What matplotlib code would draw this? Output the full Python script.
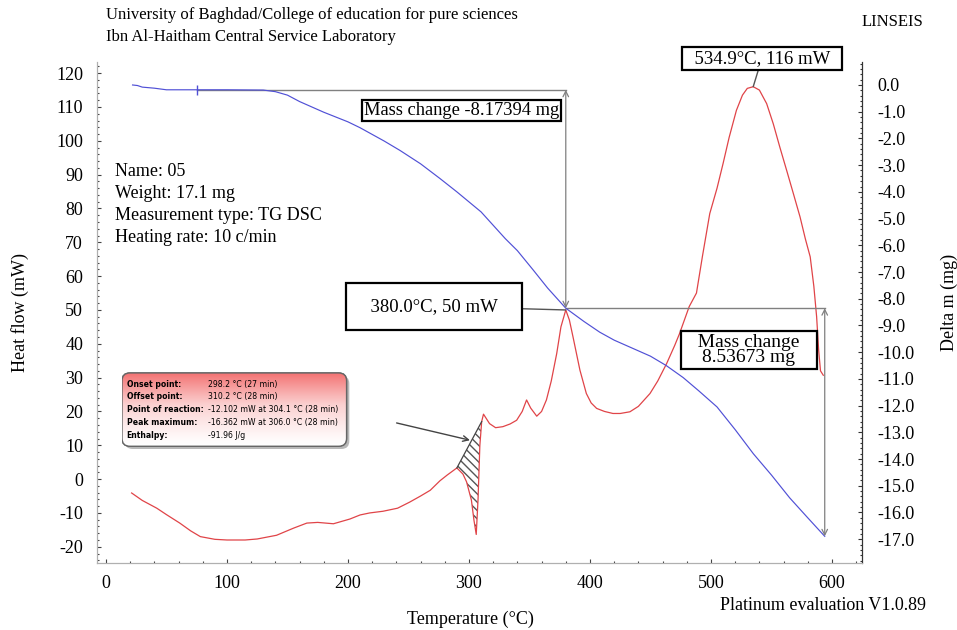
"""TG / DSC thermogram for sample 05 (Platinum evaluation export)."""

import numpy as np
import matplotlib

matplotlib.use("Agg")
import matplotlib.pyplot as plt
from matplotlib.colors import LinearSegmentedColormap
from matplotlib.patches import FancyBboxPatch
from matplotlib.ticker import FormatStrFormatter, MultipleLocator

# DSC heat flow (mW) against temperature (°C)
dsc_temp = [21.2, 30, 42, 50, 61, 70, 78, 90, 100, 115, 125, 141, 155, 166, 175,
            188, 201.6, 210, 218, 229, 241, 251, 260, 268, 276, 282, 290, 295, 298,
            302, 304.1, 306.0, 307.5, 309, 310.5, 312, 317, 322, 328, 334, 339.4,
            344, 347.6, 351, 356, 360, 364, 368, 372.5, 376, 380, 383, 386, 391.7,
            397, 401, 405.5, 412, 419, 425, 433, 440, 449.6, 456, 463.4, 470, 474,
            477, 482, 488, 493, 499, 505, 510, 515, 521, 526, 530, 534.9, 540, 546,
            551.5, 557, 562.5, 568, 573.6, 578, 582, 585, 587.3, 589, 590.5, 592.8]
dsc_heat = [-4.1, -6.3, -8.6, -10.5, -13, -15.3, -17, -17.8, -18, -18, -17.7, -16.6,
            -14.5, -13, -12.8, -13.2, -11.8, -10.6, -10, -9.5, -8.6, -6.8, -5, -3.3,
            -0.5, 1.2, 3.3, 1.5, -0.8, -6.2, -12.102, -16.362, -6, 10, 17, 19.2, 16.4,
            15.2, 15.5, 16.3, 17.4, 20, 23.4, 21, 18.6, 20, 23.4, 29, 37.1, 45, 50, 47,
            42, 32.2, 25.3, 22.5, 20.9, 20, 19.4, 19.4, 19.9, 21.5, 25.3, 29, 34.2,
            39.5, 43, 46, 51, 55, 66, 78.5, 86, 93.3, 101, 109, 113.5, 115.5, 116, 115,
            111, 105, 98, 91.3, 84.5, 77.5, 71, 65.7, 57, 48, 38, 32, 30.7]

# TG mass change (mg) against temperature (°C)
tg_temp = [22, 26, 30, 40, 50, 75, 100, 130, 140, 150, 160, 170, 180, 190, 200, 210,
           220, 230, 243, 260, 276, 290, 310, 330, 340, 353, 365, 380, 395, 408, 420,
           435, 450, 463, 477, 490, 505, 520, 535, 550, 565, 580, 594]
tg_mass = [0.0, -0.02, -0.08, -0.12, -0.18, -0.18, -0.18, -0.19, -0.25, -0.38, -0.62,
           -0.82, -1.02, -1.2, -1.38, -1.6, -1.85, -2.1, -2.45, -2.95, -3.5, -4.0,
           -4.75, -5.75, -6.2, -6.92, -7.6, -8.354, -8.85, -9.25, -9.55, -9.85,
           -10.15, -10.5, -10.95, -11.45, -12.05, -12.9, -13.8, -14.6, -15.45, -16.2,
           -16.891]

# evaluated results
mass_steps = [8.17394, 8.53673]
step_temps = [75, 380.0, 594]
mass_start = -0.18
dsc_peaks = [(380.0, 50), (534.9, 116)]
peak_window = (290, 310.5)

info_labels = ["Onset point:", "Offset point:", "Point of reaction:", "Peak maximum:",
               "Enthalpy:"]
info_values = ["298.2 °C (27 min)", "310.2 °C (28 min)",
               "-12.102 mW at 304.1 °C (28 min)", "-16.362 mW at 306.0 °C (28 min)",
               "-91.96 J/g"]

plt.rcParams["font.family"] = ["Liberation Serif", "DejaVu Serif"]
plt.rcParams["axes.unicode_minus"] = False

W, H = 957, 630
fig = plt.figure(figsize=(W / 100, H / 100), dpi=100)
ax = fig.add_axes([97 / W, 1 - 563 / H, (862 - 97) / W, (563 - 62) / H])
ax2 = ax.twinx()

ax.plot(dsc_temp, dsc_heat, color="#e04448", lw=0.9, zorder=3)
ax2.plot(tg_temp, tg_mass, color="#5050d6", lw=0.85, zorder=3)

ax.set_xlim(-7.4, 624.8)
ax.set_ylim(-24.8, 123.3)
ax2.set_ylim(-17.89, 0.86)

ax.set_xticks(range(0, 601, 100))
ax.xaxis.set_minor_locator(MultipleLocator(20))
ax.set_yticks(range(-20, 121, 10))
ax.yaxis.set_minor_locator(MultipleLocator(2))
ax2.set_yticks(np.arange(-17, 0.5, 1))
ax2.yaxis.set_major_formatter(FormatStrFormatter("%.1f"))
ax2.yaxis.set_minor_locator(MultipleLocator(0.2))

ax.tick_params(which="both", direction="in", color="#444", width=0.8, labelsize=13)
ax.tick_params(which="major", length=3)
ax.tick_params(which="minor", length=1.5)
ax.tick_params(axis="x", pad=9)
ax.tick_params(axis="y", pad=10)
ax2.tick_params(which="both", direction="in", color="#333", width=0.8, labelsize=13)
ax2.tick_params(which="major", length=3, pad=11)
ax2.tick_params(which="minor", length=1.5)

for a in (ax, ax2):
    a.spines["top"].set_visible(False)
    a.spines["left"].set_color("#b0b0b0")
    a.spines["bottom"].set_color("#b0b0b0")
ax2.spines["right"].set_color("#333")

# mass change dimension lines
grey = "#808080"
lvl1 = mass_start
lvl2 = lvl1 - mass_steps[0]
lvl3 = lvl2 - mass_steps[1]
ax2.plot([step_temps[0], step_temps[1]], [lvl1, lvl1], color=grey, lw=1, zorder=2)
ax2.plot([step_temps[0]], [lvl1], marker="|", ms=7, color="#5050d6", zorder=4)
ax2.plot([step_temps[1], step_temps[2]], [lvl2, lvl2], color=grey, lw=1, zorder=2)
ax2.annotate("", xy=(step_temps[1], lvl1), xytext=(step_temps[1], lvl2),
             arrowprops=dict(arrowstyle="<->", color=grey, lw=0.9,
                             shrinkA=0, shrinkB=0))
ax2.annotate("", xy=(step_temps[2], lvl2), xytext=(step_temps[2], lvl3),
             arrowprops=dict(arrowstyle="<->", color=grey, lw=0.9,
                             shrinkA=0, shrinkB=0))

box_kw = dict(boxstyle="square,pad=0.15", fc="white", ec="black", lw=1.6)
ax2.text(294.2, lvl1 - 0.78, f"Mass change -{mass_steps[0]:.5f} mg", fontsize=13.3,
         ha="center", va="center", bbox=dict(box_kw, boxstyle="square,pad=0.1"),
         zorder=6)
ax2.text(531.4, -9.92, f"   Mass change   \n{mass_steps[1]:.5f} mg", fontsize=14,
         ha="center", va="center", linespacing=0.85, multialignment="center",
         bbox=box_kw, zorder=6)

# DSC peak labels
t1, h1 = dsc_peaks[0]
ax.annotate(f"  {t1:.1f}°C, {h1:.0f} mW  ", xy=(t1, h1), xytext=(271, 51.1),
            fontsize=13.5, ha="center", va="center", zorder=6,
            bbox=dict(boxstyle="square,pad=0.8", fc="white", ec="black", lw=1.6),
            arrowprops=dict(arrowstyle="-", color="#555", lw=1, shrinkA=0, shrinkB=0))
t2, h2 = dsc_peaks[1]
ax.annotate(f"  {t2:.1f}°C, {h2:.0f} mW  ", xy=(t2, h2), xytext=(542.1, 124.4),
            fontsize=13.5, ha="center", va="center", zorder=6, annotation_clip=False,
            bbox=dict(boxstyle="square,pad=0.15", fc="white", ec="black", lw=1.6),
            arrowprops=dict(arrowstyle="-", color="#555", lw=1, shrinkA=0, shrinkB=0))

# hatched enthalpy area with its baseline
dt = np.array(dsc_temp)
dh = np.array(dsc_heat)
sel = (dt >= peak_window[0]) & (dt <= peak_window[1])
seg_t = dt[sel]
seg_h = dh[sel]
base = np.interp(seg_t, [seg_t[0], seg_t[-1]], [seg_h[0], seg_h[-1]])
ax.fill_between(seg_t, seg_h, base, facecolor="none", edgecolor="#555", hatch="\\\\\\\\",
                lw=0, zorder=2)
ax.plot([seg_t[0], seg_t[-1]], [seg_h[0], seg_h[-1]], color="#444", lw=0.9, zorder=3)
ax.annotate("", xy=(300.8, 11.5), xytext=(240.2, 16.6),
            arrowprops=dict(arrowstyle="->", color="#444", lw=1, shrinkA=0, shrinkB=0))

# evaluation info box
bx = fig.add_axes([122 / W, 1 - 449 / H, 228 / W, 78 / H])
bx.set_axis_off()
bx.set_xlim(0, 1)
bx.set_ylim(0, 1)
asp = 228 / 78
shadow = FancyBboxPatch((0.012, 0.0), 0.985, 0.94, boxstyle="round,pad=0,rounding_size=0.035",
                        mutation_aspect=asp, fc="#9a9a9a", ec="none", alpha=0.7)
bx.add_patch(shadow)
frame = FancyBboxPatch((0.0, 0.035), 0.985, 0.94, boxstyle="round,pad=0,rounding_size=0.035",
                       mutation_aspect=asp, fc="white", ec="#777", lw=1, zorder=2)
bx.add_patch(frame)
pink = LinearSegmentedColormap.from_list("pink", ["#ffffff", "#fbd0d0", "#f37070"])
grad = np.linspace(0, 1, 200).reshape(-1, 1) ** 1.2
img = bx.imshow(grad, cmap=pink, extent=(0, 0.985, 0.035, 0.975), origin="lower",
                aspect="auto", zorder=3)
img.set_clip_path(frame)
edge = FancyBboxPatch((0.0, 0.035), 0.985, 0.94, boxstyle="round,pad=0,rounding_size=0.035",
                      mutation_aspect=asp, fc="none", ec="#666", lw=1, zorder=4)
bx.add_patch(edge)
for i, (lab, val) in enumerate(zip(info_labels, info_values)):
    y = 0.83 - i * 0.163
    bx.text(0.02, y, lab, fontsize=5.6, fontweight="bold", family="DejaVu Sans",
            va="center", zorder=5)
    bx.text(0.375, y, val, fontsize=5.6, family="DejaVu Sans", va="center", zorder=5)

# sample description
desc = ["Name: 05", "Weight: 17.1 mg", "Measurement type: TG DSC",
        "Heating rate: 10 c/min"]
for i, line in enumerate(desc):
    fig.text(115 / W, 1 - (172 + i * 21.7) / H, line, fontsize=13, va="center")

# page header / footer
fig.text(106 / W, 1 - 15 / H, "University of Baghdad/College of education for pure sciences",
         fontsize=12, va="center")
fig.text(106 / W, 1 - 37 / H, "Ibn Al-Haitham Central Service Laboratory",
         fontsize=12, va="center")
fig.text(892 / W, 1 - 22 / H, "LINSEIS", fontsize=12, ha="center", va="center")
fig.text(720 / W, 1 - 605 / H, "Platinum evaluation V1.0.89", fontsize=13, va="center")
fig.text(470 / W, 1 - 619 / H, "Temperature (°C)", fontsize=13, ha="center", va="center")
fig.text(20 / W, 1 - 312 / H, "Heat flow (mW)", fontsize=13, rotation=90,
         ha="center", va="center")
fig.text(949 / W, 1 - 302 / H, "Delta m (mg)", fontsize=13, rotation=90,
         ha="center", va="center")

fig.savefig("out.png", dpi=100)
plt.close(fig)
